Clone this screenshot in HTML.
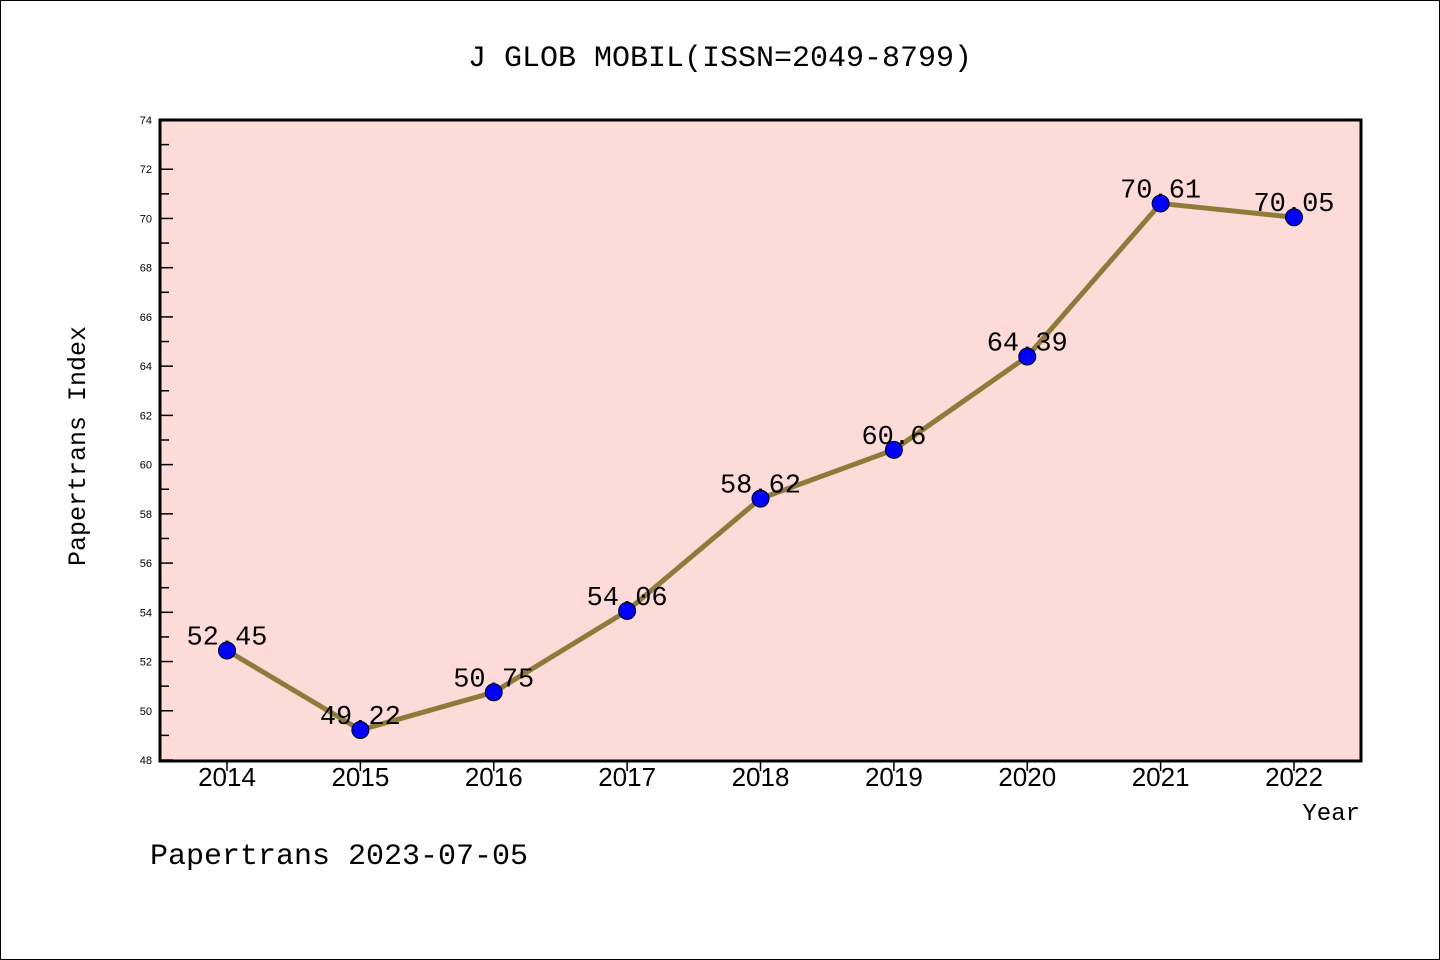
<!DOCTYPE html>
<html><head><meta charset="utf-8"><style>
body{margin:0;background:#fff}
svg{display:block;font-family:"Liberation Mono",monospace}
.s{font-family:"Liberation Sans",sans-serif}
</style></head><body>
<svg id="c" width="1440" height="960">
<rect x="0.5" y="0.5" width="1439" height="959" fill="#fff" stroke="#000"/>
<text x="720" y="66" font-size="30" text-anchor="middle">J GLOB MOBIL(ISSN=2049-8799)</text>
<rect x="160" y="120" width="1201" height="641" fill="#fddbd8"/>
<g id="ticks"></g>
<g id="series"></g>
<rect x="160" y="120" width="1201" height="641" fill="none" stroke="#000" stroke-width="3"/>
<text transform="translate(85,446) rotate(-90)" font-size="25" text-anchor="middle">Papertrans Index</text>
<text x="1360" y="820" font-size="24" text-anchor="end">Year</text>
<text x="150" y="864" font-size="30">Papertrans 2023-07-05</text>
</svg>
<script>
const years=[2014,2015,2016,2017,2018,2019,2020,2021,2022];
const values=[52.45,49.22,50.75,54.06,58.62,60.6,64.39,70.61,70.05];
const labels=["52.45","49.22","50.75","54.06","58.62","60.6","64.39","70.61","70.05"];
const yTicks=[48,50,52,54,56,58,60,62,64,66,68,70,72,74];
const NS="http://www.w3.org/2000/svg";
const X=y=>227+(y-2014)*(1294-227)/8;
const Y=v=>760-(v-48)*640/26;
function mk(t,a,p){const e=document.createElementNS(NS,t);for(const k in a)e.setAttribute(k,a[k]);p.appendChild(e);return e;}
const tg=document.getElementById('ticks'),sg=document.getElementById('series');
yTicks.forEach((v,i)=>{
  const l=mk('line',{x1:160,x2:173,y1:Y(v),y2:Y(v),stroke:'#000','stroke-width':1.5},tg);
  
  
  const t=mk('text',{x:152,y:Y(v)+4,'font-size':11,'text-anchor':'end','class':'s'},tg);
  t.textContent=v;
  
  
  if(i<yTicks.length-1){
    const m=mk('line',{x1:160,x2:169,y1:Y(v+1),y2:Y(v+1),stroke:'#000','stroke-width':1.5},tg);
    
    
  }
});
years.forEach(y=>{
  const l=mk('line',{x1:X(y),x2:X(y),y1:761,y2:771,stroke:'#000','stroke-width':1.5},tg);
  
  
  const t=mk('text',{x:X(y),y:786,'font-size':26,'text-anchor':'middle','class':'s'},tg);
  t.textContent=y;
  
  
});
const pl=mk('polyline',{points:years.map((y,i)=>X(y)+','+Y(values[i])).join(' '),fill:'none',stroke:'#8e7b3a','stroke-width':5},sg);


years.forEach((y,i)=>{
  const t=mk('text',{x:X(y),y:Y(values[i])-6,'font-size':27,'text-anchor':'middle'},sg);
  t.textContent=labels[i];
  
  
});
years.forEach((y,i)=>{
  const c=mk('circle',{cx:X(y),cy:Y(values[i]),r:8.5,fill:'#0000ff',stroke:'#000','stroke-width':1},sg);
  
  
});
</script>
</body></html>
